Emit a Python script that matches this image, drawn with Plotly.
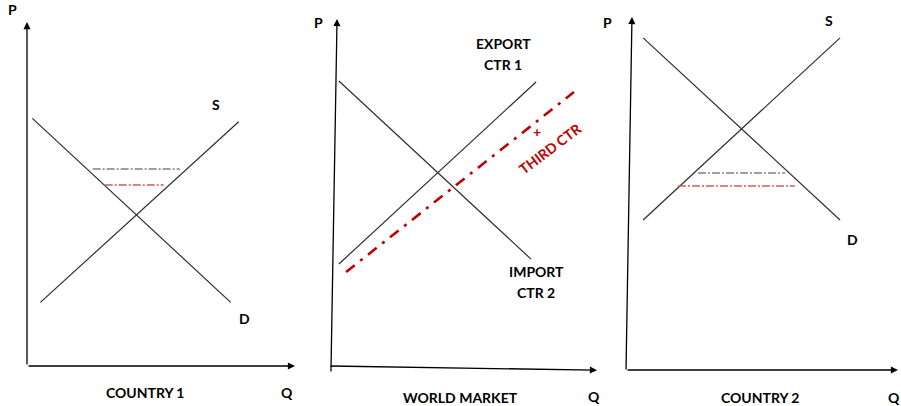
import plotly.graph_objects as go

W, H = 901, 406

# ---- data (abstract Q/P units, each panel 0..10) ----
# Country 1
c1_demand_q = [0.2, 7.6]
c1_demand_p = [7.2, 1.85]
c1_supply_q = [0.5, 7.9]
c1_supply_p = [1.85, 7.1]
c1_gray_q = [2.45, 5.7]
c1_gray_p = [5.73, 5.73]
c1_red_q = [2.9, 5.1]
c1_red_p = [5.26, 5.26]

# World market
wm_import_q = [0.26, 7.51]
wm_import_p = [8.22, 3.10]
wm_export_q = [0.26, 7.70]
wm_export_p = [2.96, 8.19]
wm_third_q = [0.53, 9.13]
wm_third_p = [2.73, 7.90]

# Country 2
c2_demand_q = [0.63, 7.87]
c2_demand_p = [9.41, 4.25]
c2_supply_q = [0.63, 7.87]
c2_supply_p = [4.25, 9.41]
c2_gray_q = [2.65, 5.85]
c2_gray_p = [5.58, 5.58]
c2_red_q = [1.91, 6.21]
c2_red_p = [5.21, 5.21]

FONT = "Lato"
DARK = "#2e2e2e"
RED = "#c00000"

fig = go.Figure()

def line(q, p, ax, color=DARK, width=1.2, dash="solid"):
    xa = "x" if ax == 1 else f"x{ax}"
    ya = "y" if ax == 1 else f"y{ax}"
    fig.add_trace(go.Scatter(x=q, y=p, mode="lines", xaxis=xa, yaxis=ya,
                             line=dict(color=color, width=width, dash=dash),
                             cliponaxis=False, hoverinfo="skip", showlegend=False))

line(c1_demand_q, c1_demand_p, 1)
line(c1_supply_q, c1_supply_p, 1)
line(c1_gray_q, c1_gray_p, 1, color="#808080", width=1.5, dash="8px,2px,2px,2px")
line(c1_red_q, c1_red_p, 1, color="#d05a5a", width=1.5, dash="8px,2px,2px,2px")

line(wm_import_q, wm_import_p, 2)
line(wm_export_q, wm_export_p, 2)
line(wm_third_q, wm_third_p, 2, color=RED, width=2.6, dash="11px,7px,3px,7px")

line(c2_demand_q, c2_demand_p, 3)
line(c2_supply_q, c2_supply_p, 3)
line(c2_gray_q, c2_gray_p, 3, color="#808080", width=1.5, dash="8px,2px,2px,2px")
line(c2_red_q, c2_red_p, 3, color="#d05a5a", width=1.5, dash="8px,2px,2px,2px")

# axes (arrows) : (tail_q, tail_p, head_q, head_p)
axes_arrows = {
    1: [(0, 0, 0, 10), (0, 0, 10, 0)],
    2: [(-0.04, -0.17, 0.19, 10.0), (-0.11, 0.03, 10.0, -0.09)],
    3: [(0, -0.03, 0.22, 10.0), (0, 0, 10.0, 0)],
}
annotations = []
for ax, arrows in axes_arrows.items():
    xa = "x" if ax == 1 else f"x{ax}"
    ya = "y" if ax == 1 else f"y{ax}"
    for tq, tp, hq, hp in arrows:
        annotations.append(dict(x=hq, y=hp, ax=tq, ay=tp, xref=xa, yref=ya,
                                axref=xa, ayref=ya, text="", showarrow=True,
                                arrowhead=2, arrowsize=1.1, arrowwidth=1.3,
                                arrowcolor="black"))

def label(text, px, py, size=14, color="black", angle=0):
    annotations.append(dict(text=f"<b>{text}</b>", x=px / W, y=1 - py / H,
                            xref="paper", yref="paper", showarrow=False,
                            xanchor="center", yanchor="middle", textangle=angle,
                            font=dict(family=FONT, size=size, color=color)))

label("P", 12, 10)
label("S", 216, 104)
label("D", 245, 318)
label("COUNTRY 1", 145, 392)
label("Q", 287, 392)

label("P", 318, 22)
label("EXPORT", 503, 44)
label("CTR 1", 503, 65)
label("IMPORT", 536, 271)
label("CTR 2", 536, 292)
label("+", 537, 131, color=RED)
label("THIRD CTR", 550, 148, color=RED, angle=-37)
label("WORLD MARKET", 460, 397)
label("Q", 594, 396)

label("P", 607, 23)
label("S", 829, 21)
label("D", 852, 239)
label("COUNTRY 2", 760, 397)
label("Q", 894, 397)

def dom(x0, x1, y0, y1):
    return [x0 / W, x1 / W], [1 - y0 / H, 1 - y1 / H]

d1x, d1y = dom(27, 295, 366, 22)
d2x, d2y = dom(332, 597, 367, 19)
d3x, d3y = dom(626, 898, 370, 17)

ax_common = dict(range=[0, 10], visible=False, showgrid=False, zeroline=False, fixedrange=True)

fig.update_layout(
    width=W, height=H,
    margin=dict(l=0, r=0, t=0, b=0),
    paper_bgcolor="white", plot_bgcolor="rgba(0,0,0,0)",
    xaxis=dict(domain=d1x, anchor="y", **ax_common),
    yaxis=dict(domain=d1y, anchor="x", **ax_common),
    xaxis2=dict(domain=d2x, anchor="y2", **ax_common),
    yaxis2=dict(domain=d2y, anchor="x2", **ax_common),
    xaxis3=dict(domain=d3x, anchor="y3", **ax_common),
    yaxis3=dict(domain=d3y, anchor="x3", **ax_common),
    annotations=annotations,
    showlegend=False,
)

fig.write_html("out.html", config={"displayModeBar": False},
               post_script="document.body.style.margin='0';document.body.style.overflow='hidden';")
